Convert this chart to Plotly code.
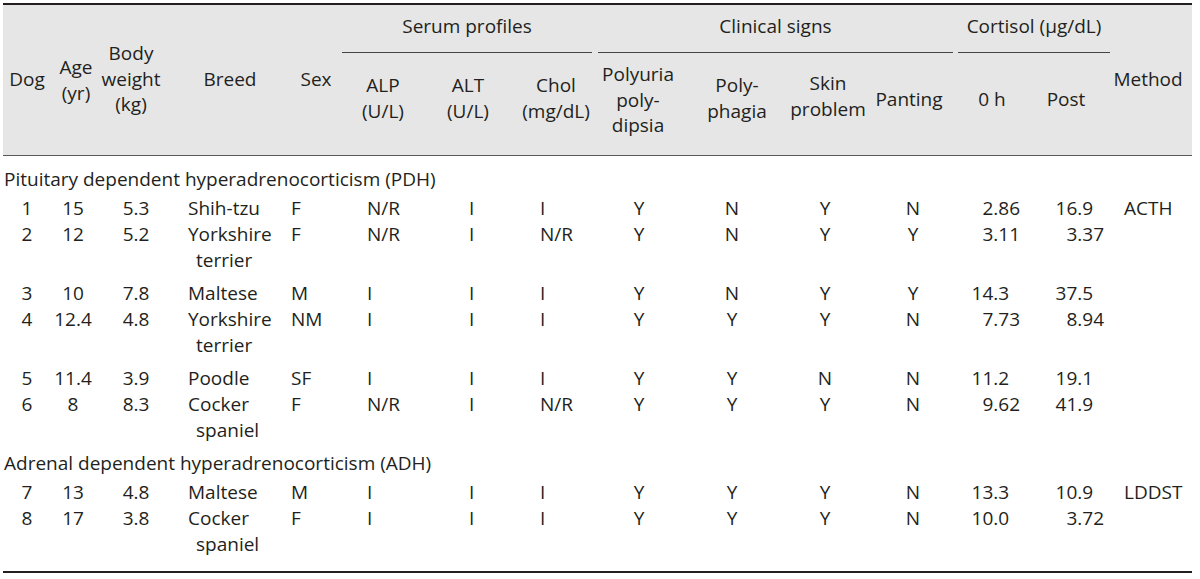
import plotly.graph_objects as go

# ---------------- data ----------------
dog = ["1", "2", "3", "4", "5", "6", "7", "8"]
age = ["15", "12", "10", "12.4", "11.4", "8", "13", "17"]
body_weight = ["5.3", "5.2", "7.8", "4.8", "3.9", "8.3", "4.8", "3.8"]
breed = ["Shih-tzu", "Yorkshire terrier", "Maltese", "Yorkshire terrier",
         "Poodle", "Cocker spaniel", "Maltese", "Cocker spaniel"]
sex = ["F", "F", "M", "NM", "SF", "F", "M", "F"]
alp = ["N/R", "N/R", "I", "I", "I", "N/R", "I", "I"]
alt = ["I", "I", "I", "I", "I", "I", "I", "I"]
chol = ["I", "N/R", "I", "I", "I", "N/R", "I", "I"]
polyuria = ["Y", "Y", "Y", "Y", "Y", "Y", "Y", "Y"]
polyphagia = ["N", "N", "N", "Y", "Y", "Y", "Y", "Y"]
skin = ["Y", "Y", "Y", "Y", "N", "Y", "Y", "Y"]
panting = ["N", "Y", "Y", "N", "N", "N", "N", "N"]
cortisol_0h = ["2.86", "3.11", "14.3", "7.73", "11.2", "9.62", "13.3", "10.0"]
cortisol_post = ["16.9", "3.37", "37.5", "8.94", "19.1", "41.9", "10.9", "3.72"]
method = ["ACTH", "", "", "", "", "", "LDDST", ""]
group = ["PDH", "PDH", "PDH", "PDH", "PDH", "PDH", "ADH", "ADH"]
group_labels = {"PDH": "Pituitary dependent hyperadrenocorticism (PDH)",
                "ADH": "Adrenal dependent hyperadrenocorticism (ADH)"}

header_groups = ["Serum profiles", "Clinical signs", "Cortisol (μg/dL)"]
header_top = [["Dog"], ["Age", "(yr)"], ["Body", "weight", "(kg)"], ["Breed"], ["Sex"], ["Method"]]
header_sub = [["ALP", "(U/L)"], ["ALT", "(U/L)"], ["Chol", "(mg/dL)"],
              ["Polyuria", "poly-", "dipsia"], ["Poly-", "phagia"], ["Skin", "problem"],
              ["Panting"], ["0 h"], ["Post"]]

# ---------------- layout constants ----------------
W, H = 1200, 579
FONT = "Open Sans"
FS = 19
INK = "#231f20"
HEAD_BG = "#e6e6e6"
DIGIT_W = 0.572 * FS
LH = 25.5  # header line height
HEAD_L, HEAD_R, HEAD_T, HEAD_B = 3, 1192, 4, 155

top_x = [27, 76, 131, 230, 316, 1148]
top_c = [81, 82, 81, 81, 81, 81]
sub_x = [383, 468, 556, 638, 737, 828, 909, 992, 1066]
sub_c = [100, 100, 100, 102, 100, 98, 101, 101, 101]
grp_x = [(342, 592), (598, 953), (958, 1110)]

# row positions
LINE = 26
y = 181
row_y, wrap_y, label_pos = [], [], []
prev = None
for i, g in enumerate(group):
    if g != prev:
        label_pos.append((y, group_labels[g]))
        y += 29
        prev = g
    row_y.append(y)
    if " " in breed[i]:
        wrap_y.append(y + LINE)
        y += LINE + 33
    else:
        wrap_y.append(None)
        y += LINE

fig = go.Figure()

# header background band
fig.add_shape(type="rect", xref="x", yref="y", x0=HEAD_L, x1=HEAD_R, y0=HEAD_T, y1=HEAD_B,
              fillcolor=HEAD_BG, opacity=1, line=dict(width=0), layer="between")


def add_text(xs, ys, texts, pos="middle center"):
    fig.add_trace(go.Scatter(
        x=xs, y=ys, text=texts, mode="text", textposition=pos,
        textfont=dict(family=FONT, size=FS, color=INK),
        hoverinfo="skip", showlegend=False, cliponaxis=False))


def add_header(xs, centers, lines_list):
    hx, hy, ht = [], [], []
    for x, c, lines in zip(xs, centers, lines_list):
        k = len(lines)
        for j, t in enumerate(lines):
            hx.append(x)
            hy.append(c + (j - (k - 1) / 2) * LH)
            ht.append(t)
    add_text(hx, hy, ht)


n = len(dog)
# rules
fig.add_shape(type="line", x0=HEAD_L, x1=HEAD_R, y0=HEAD_T, y1=HEAD_T, line=dict(color=INK, width=2))
fig.add_shape(type="line", x0=HEAD_L, x1=HEAD_R, y0=HEAD_B + 0.5, y1=HEAD_B + 0.5,
              line=dict(color="#5a5a5a", width=1))
for (a, b) in grp_x:
    fig.add_shape(type="line", x0=a, x1=b, y0=52.5, y1=52.5, line=dict(color="#444444", width=1))
fig.add_shape(type="line", x0=HEAD_L, x1=HEAD_R, y0=572, y1=572, line=dict(color=INK, width=2))

# headers
add_text([(a + b) / 2 for a, b in grp_x], [28] * 3, header_groups)
add_header(top_x, top_c, header_top)
add_header(sub_x, sub_c, header_sub)

# group labels
add_text([4] * len(label_pos), [p[0] for p in label_pos], [p[1] for p in label_pos], "middle right")

# body columns
add_text([27] * n, row_y, dog)
add_text([73] * n, row_y, age)
add_text([136] * n, row_y, body_weight)
add_text([188] * n, row_y, [b.split(" ")[0] for b in breed], "middle right")
wx = [196 for w in wrap_y if w is not None]
wy = [w for w in wrap_y if w is not None]
wt = [b.split(" ")[1] for b in breed if " " in b]
add_text(wx, wy, wt, "middle right")
add_text([291] * n, row_y, sex, "middle right")
add_text([367] * n, row_y, alp, "middle right")
add_text([469] * n, row_y, alt, "middle right")
add_text([540] * n, row_y, chol, "middle right")
add_text([639] * n, row_y, polyuria)
add_text([732] * n, row_y, polyphagia)
add_text([825] * n, row_y, skin)
add_text([913] * n, row_y, panting)


def dec_x(vals, base):
    return [base - (2 - len(v.split(".")[1])) * DIGIT_W for v in vals]


add_text(dec_x(cortisol_0h, 1020), row_y, cortisol_0h, "middle left")
add_text(dec_x(cortisol_post, 1104), row_y, cortisol_post, "middle left")
add_text([1124] * n, row_y, method, "middle right")

fig.update_layout(
    width=W, height=H, margin=dict(l=0, r=0, t=0, b=0),
    paper_bgcolor="white", plot_bgcolor="white",
    xaxis=dict(range=[0, W], visible=False, fixedrange=True),
    yaxis=dict(range=[H, 0], visible=False, fixedrange=True),
)
fig.write_html("out.html", config={"displayModeBar": False},
               post_script="document.body.style.margin='0';document.body.style.overflow='hidden';")
